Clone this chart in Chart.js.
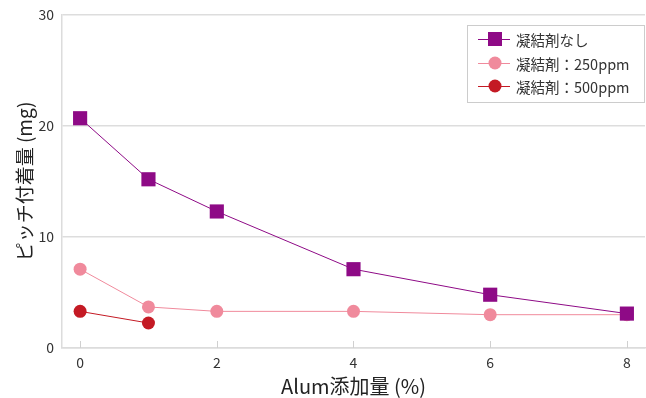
<!DOCTYPE html>
<html>
<head>
<meta charset="utf-8">
<script src="https://cdn.jsdelivr.net/npm/chart.js@4"></script>
<style>
  html, body { margin: 0; padding: 0; background: #fff; overflow: hidden; }
  canvas { display: block; }
</style>
</head>
<body>
<canvas id="c" width="646" height="398"></canvas>
<script>
// Alum addition (%) on the x axis
const alumX = [0, 1, 2, 4, 6, 8];
// Pitch deposit (mg) for each coagulant condition
const noCoagulant = [20.7, 15.2, 12.3, 7.1, 4.8, 3.1];
const coag250 = [7.1, 3.7, 3.3, 3.3, 3.0, 3.0];
const coag500x = [0, 1];
const coag500 = [3.3, 2.25];
const xTicks = [0, 2, 4, 6, 8];
const yTicks = [0, 10, 20, 30];

const FONT = '"Noto Sans CJK JP", "Noto Sans", sans-serif';

const pts = (xs, ys) => xs.map((x, i) => ({ x, y: ys[i] }));

// Legend box drawn inside the plot area (top right)
const insideLegend = {
  id: 'insideLegend',
  afterDatasetsDraw(chart) {
    const ctx = chart.ctx;
    const x0 = 467.5, y0 = 25.5, w = 177, h = 77;
    ctx.save();
    ctx.fillStyle = '#fff';
    ctx.fillRect(x0, y0, w, h);
    ctx.strokeStyle = '#cccccc';
    ctx.lineWidth = 1;
    ctx.strokeRect(x0, y0, w, h);
    const rows = [39, 63, 86];
    chart.data.datasets.forEach((ds, i) => {
      const cy = rows[i];
      ctx.strokeStyle = ds.borderColor;
      ctx.lineWidth = 1;
      ctx.beginPath();
      ctx.moveTo(478, cy + 0.5);
      ctx.lineTo(510, cy + 0.5);
      ctx.stroke();
      ctx.fillStyle = ds.pointBackgroundColor;
      if (ds.pointStyle === 'rect') {
        ctx.fillRect(488, cy - 7, 14, 14);
      } else {
        ctx.beginPath();
        ctx.arc(495, cy, 6.5, 0, Math.PI * 2);
        ctx.fill();
      }
      ctx.fillStyle = '#333';
      ctx.font = '14.5px ' + FONT;
      ctx.textBaseline = 'middle';
      ctx.textAlign = 'left';
      ctx.fillText(ds.label, 516, cy + 1);
    });
    ctx.restore();
  }
};

// Short tick marks standing up from the x axis line
const xTickMarks = {
  id: 'xTickMarks',
  afterDraw(chart) {
    const ctx = chart.ctx;
    const xs = chart.scales.x;
    const bottom = chart.chartArea.bottom;
    ctx.save();
    ctx.strokeStyle = '#d0d0d0';
    ctx.lineWidth = 1;
    xTicks.forEach(v => {
      const px = Math.round(xs.getPixelForValue(v)) + 0.5;
      ctx.beginPath();
      ctx.moveTo(px, bottom - 7);
      ctx.lineTo(px, bottom);
      ctx.stroke();
    });
    ctx.restore();
  }
};

new Chart(document.getElementById('c'), {
  type: 'line',
  data: {
    datasets: [
      {
        label: '凝結剤なし',
        data: pts(alumX, noCoagulant),
        borderColor: '#8e0a86',
        backgroundColor: '#8e0a86',
        pointBackgroundColor: '#8e0a86',
        pointBorderWidth: 0,
        pointStyle: 'rect',
        pointRadius: 10,
        borderWidth: 1,
        order: 1
      },
      {
        label: '凝結剤：250ppm',
        data: pts(alumX, coag250),
        borderColor: '#f08a9c',
        backgroundColor: '#f08a9c',
        pointBackgroundColor: '#f08a9c',
        pointBorderWidth: 0,
        pointStyle: 'circle',
        pointRadius: 6.5,
        borderWidth: 1,
        order: 2
      },
      {
        label: '凝結剤：500ppm',
        data: pts(coag500x, coag500),
        borderColor: '#c41a24',
        backgroundColor: '#c41a24',
        pointBackgroundColor: '#c41a24',
        pointBorderWidth: 0,
        pointStyle: 'circle',
        pointRadius: 6.5,
        borderWidth: 1,
        order: 3
      }
    ]
  },
  options: {
    responsive: false,
    animation: false,
    layout: { autoPadding: false, padding: { top: 15, right: 1, left: 0, bottom: 0 } },
    plugins: { legend: { display: false }, tooltip: { enabled: false } },
    scales: {
      x: {
        type: 'linear',
        min: -0.265,
        max: 8.265,
        afterBuildTicks: s => { s.ticks = xTicks.map(v => ({ value: v })); },
        afterFit: s => { s.height = 50; s.paddingLeft = 0; s.paddingRight = 0; },
        grid: { drawOnChartArea: false, drawTicks: false, color: '#d8d8d8' },
        border: { color: '#dcdcdc', width: 1.5 },
        ticks: { color: '#333', font: { family: FONT, size: 14 }, padding: 6 },
        title: {
          display: true,
          text: 'Alum添加量 (%)',
          color: '#222',
          font: { family: FONT, size: 20 },
          padding: { top: 0, bottom: 0 }
        }
      },
      y: {
        min: 0,
        max: 30,
        afterBuildTicks: s => { s.ticks = yTicks.map(v => ({ value: v })); },
        afterFit: s => { s.width = 62; s.paddingTop = 0; s.paddingBottom = 0; },
        grid: { color: '#dddddd', lineWidth: 1.5, drawTicks: false },
        border: { color: '#dcdcdc', width: 1.5 },
        ticks: { color: '#333', font: { family: FONT, size: 14 }, padding: 8 },
        title: {
          display: true,
          text: 'ピッチ付着量 (mg)',
          color: '#222',
          font: { family: FONT, size: 19 },
          padding: { top: 13, bottom: 0 }
        }
      }
    }
  },
  plugins: [xTickMarks, insideLegend]
});
</script>
</body>
</html>
